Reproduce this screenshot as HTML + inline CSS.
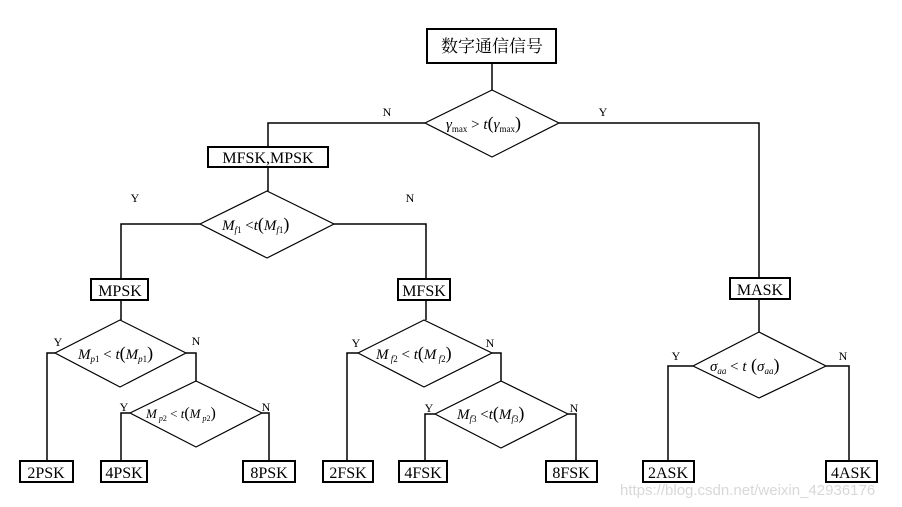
<!DOCTYPE html>
<html><head><meta charset="utf-8"><style>
body{margin:0;background:#fff;}
svg{display:block;}
text{font-family:"Liberation Serif","Noto Serif CJK SC",serif;fill:#000;}
.m{font-style:italic;}
</style></head><body>
<svg width="902" height="507" viewBox="0 0 902 507" xmlns="http://www.w3.org/2000/svg">
<g fill="none" stroke="#000" stroke-width="1.5">
<!-- connectors -->
<path d="M492 63 V90"/>
<path d="M425 123 H268 V147"/>
<path d="M559 123 H759 V278"/>
<path d="M268 167 V191"/>
<path d="M200 224 H121 V278"/>
<path d="M334 224 H426 V279"/>
<path d="M121 300 V320"/>
<path d="M426 300 V320"/>
<path d="M759 299 V332"/>
<path d="M55 353 H47 V460"/>
<path d="M186 353 H196 V381"/>
<path d="M130 413 H121 V460"/>
<path d="M262 413 H269 V460"/>
<path d="M358 353 H347 V460"/>
<path d="M492 353 H501 V381"/>
<path d="M435 414 H425 V460"/>
<path d="M568 414 H576 V460"/>
<path d="M693 366 H668 V460"/>
<path d="M826 366 H849 V460"/>
</g>
<g fill="#fff" stroke="#000" stroke-width="1.2">
<polygon points="492,90 559,123 492,157 425,123"/>
<polygon points="267,191 334,224 267,258 200,224"/>
<polygon points="120,320 186,353 120,387 55,353"/>
<polygon points="196,381 262,413 196,447 130,413"/>
<polygon points="424,320 492,353 424,387 358,353"/>
<polygon points="501,381 568,414 501,448 435,414"/>
<polygon points="759,332 826,366 759,398 693,366"/>
</g>
<g fill="#fff" stroke="#000" stroke-width="2">
<rect x="427" y="29" width="129" height="34"/>
<rect x="208" y="147" width="120" height="20"/>
<rect x="91" y="279" width="57" height="21"/>
<rect x="398" y="279" width="52" height="21"/>
<rect x="730" y="278" width="60" height="21"/>
<rect x="20" y="461" width="53" height="21"/>
<rect x="101" y="461" width="46" height="21"/>
<rect x="243" y="461" width="52" height="21"/>
<rect x="323" y="461" width="50" height="21"/>
<rect x="399" y="461" width="48" height="21"/>
<rect x="546" y="461" width="51" height="21"/>
<rect x="643" y="461" width="51" height="21"/>
<rect x="826" y="461" width="51" height="21"/>
</g>
<g font-size="16" text-anchor="middle">
<text x="492" y="52" font-size="17">数字通信信号</text>
<text x="268" y="163">MFSK,MPSK</text>
<text x="120" y="296">MPSK</text>
<text x="424" y="296">MFSK</text>
<text x="760" y="295">MASK</text>
<text x="46" y="478">2PSK</text>
<text x="124" y="478">4PSK</text>
<text x="269" y="478">8PSK</text>
<text x="348" y="478">2FSK</text>
<text x="423" y="478">4FSK</text>
<text x="571" y="478">8FSK</text>
<text x="668" y="478">2ASK</text>
<text x="851" y="478">4ASK</text>
</g>
<g font-size="12" text-anchor="middle">
<text x="387" y="116">N</text><text x="603" y="116">Y</text>
<text x="135" y="202">Y</text><text x="410" y="202">N</text>
<text x="58" y="346">Y</text><text x="196" y="345">N</text>
<text x="124" y="411">Y</text><text x="266" y="411">N</text>
<text x="356" y="347">Y</text><text x="490" y="347">N</text>
<text x="429" y="412">Y</text><text x="574" y="412">N</text>
<text x="676" y="360">Y</text><text x="843" y="360">N</text>
</g>
<g font-size="15">
<text x="446" y="129"><tspan class="m">γ</tspan><tspan font-size="9" dy="3">max</tspan><tspan dy="-3"> &gt; </tspan><tspan class="m">t</tspan><tspan font-size="18">(</tspan><tspan class="m">γ</tspan><tspan font-size="9" dy="3">max</tspan><tspan dy="-3" font-size="18">)</tspan></text>
<text x="222" y="230"><tspan class="m">M</tspan><tspan class="m" font-size="9" dy="3">f</tspan><tspan font-size="9">1</tspan><tspan dy="-3"> &lt;</tspan><tspan class="m">t</tspan><tspan font-size="18">(</tspan><tspan class="m">M</tspan><tspan class="m" font-size="9" dy="3">f</tspan><tspan font-size="9">1</tspan><tspan dy="-3" font-size="18">)</tspan></text>
<text x="78" y="359"><tspan class="m">M</tspan><tspan class="m" font-size="9" dy="3">p</tspan><tspan font-size="9">1</tspan><tspan dy="-3"> &lt; </tspan><tspan class="m">t</tspan><tspan font-size="18">(</tspan><tspan class="m">M</tspan><tspan class="m" font-size="9" dy="3">p</tspan><tspan font-size="9">1</tspan><tspan dy="-3" font-size="18">)</tspan></text>
<text x="146" y="418" font-size="13"><tspan class="m">M</tspan><tspan class="m" font-size="8" dy="3"> p</tspan><tspan font-size="8">2</tspan><tspan dy="-3"> &lt; </tspan><tspan class="m">t</tspan><tspan font-size="16">(</tspan><tspan class="m">M</tspan><tspan class="m" font-size="8" dy="3"> p</tspan><tspan font-size="8">2</tspan><tspan dy="-3" font-size="16">)</tspan></text>
<text x="376" y="359"><tspan class="m">M</tspan><tspan class="m" font-size="9" dy="3"> f</tspan><tspan font-size="9">2</tspan><tspan dy="-3"> &lt; </tspan><tspan class="m">t</tspan><tspan font-size="18">(</tspan><tspan class="m">M</tspan><tspan class="m" font-size="9" dy="3"> f</tspan><tspan font-size="9">2</tspan><tspan dy="-3" font-size="18">)</tspan></text>
<text x="457" y="419"><tspan class="m">M</tspan><tspan class="m" font-size="9" dy="3">f</tspan><tspan font-size="9">3</tspan><tspan dy="-3"> &lt;</tspan><tspan class="m">t</tspan><tspan font-size="18">(</tspan><tspan class="m">M</tspan><tspan class="m" font-size="9" dy="3">f</tspan><tspan font-size="9">3</tspan><tspan dy="-3" font-size="18">)</tspan></text>
<text x="710" y="371"><tspan class="m">σ</tspan><tspan class="m" font-size="9" dy="3">aa</tspan><tspan dy="-3"> &lt; </tspan><tspan class="m">t</tspan><tspan font-size="18"> (</tspan><tspan class="m">σ</tspan><tspan class="m" font-size="9" dy="3">aa</tspan><tspan dy="-3" font-size="18">)</tspan></text>
</g>
<text x="620" y="495" font-size="15" style="font-family:'Liberation Sans',sans-serif;fill:#d8d8d8">https://blog.csdn.net/weixin_42936176</text>
</svg>
</body></html>
